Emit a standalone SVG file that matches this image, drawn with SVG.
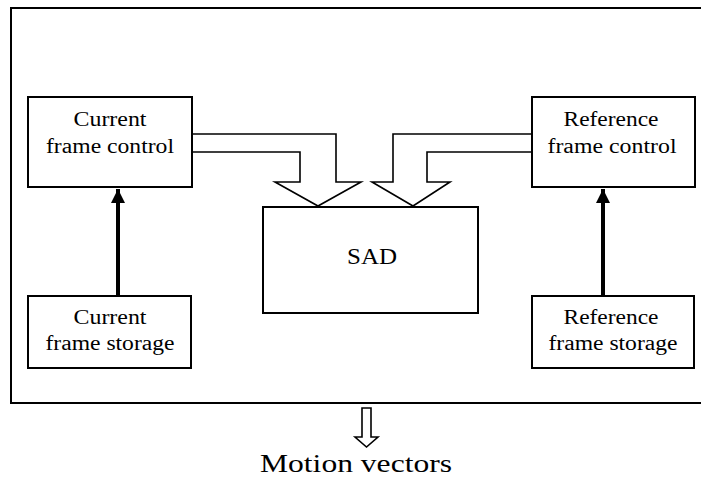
<svg xmlns="http://www.w3.org/2000/svg" width="701" height="477" viewBox="0 0 701 477">
  <style>
    .box { fill: #fff; stroke: #000; stroke-width: 2; }
    .lbl { font-family: "Liberation Serif", "Times New Roman", serif; font-size: 20px; fill: #000; text-anchor: middle; }
    .hollow { fill: #fff; stroke: #000; stroke-width: 1.6; stroke-linejoin: miter; }
    .solid { stroke: #000; stroke-width: 4; fill: none; }
  </style>
  <defs>
    <marker id="head" viewBox="0 0 10 10" refX="10" refY="5" markerWidth="3.6" markerHeight="3.6" orient="auto" markerUnits="strokeWidth">
      <path d="M0,0 L10,5 L0,10 Z" fill="#000"/>
    </marker>
  </defs>

  <rect width="701" height="477" fill="#fff"/>

  <!-- enclosing frame, open on the right -->
  <path d="M703,8 H11 V403 H703" fill="none" stroke="#000" stroke-width="2"/>

  <g id="connectors">
    <!-- wide hollow arrows into SAD -->
    <path class="hollow" d="M192,134 H336 V182 H361 L318,206 L275,182 H300 V152 H192"/>
    <path class="hollow" d="M532,134 H393 V182 H372 L413,206 L450,182 H427 V152 H532"/>
    <!-- storage to control -->
    <line class="solid" x1="118" y1="296" x2="118" y2="189" marker-end="url(#head)"/>
    <line class="solid" x1="603" y1="296" x2="603" y2="189" marker-end="url(#head)"/>
    <!-- output arrow -->
    <path class="hollow" d="M362,408 H371 V437 H378 L366.5,447 L355,437 H362 Z"/>
  </g>

  <g id="current-control">
    <rect class="box" x="28" y="97" width="164" height="90"/>
    <text class="lbl" x="110" y="126" textLength="73" lengthAdjust="spacingAndGlyphs">Current</text>
    <text class="lbl" x="110" y="153" textLength="128" lengthAdjust="spacingAndGlyphs">frame control</text>
  </g>

  <g id="reference-control">
    <rect class="box" x="532" y="97" width="163" height="90"/>
    <text class="lbl" x="611" y="126" textLength="95" lengthAdjust="spacingAndGlyphs">Reference</text>
    <text class="lbl" x="612" y="153" textLength="129" lengthAdjust="spacingAndGlyphs">frame control</text>
  </g>

  <g id="sad">
    <rect class="box" x="263" y="207" width="215" height="106"/>
    <text class="lbl" x="372" y="264" style="font-size:24px" textLength="50" lengthAdjust="spacingAndGlyphs">SAD</text>
  </g>

  <g id="current-storage">
    <rect class="box" x="28" y="296" width="163" height="72"/>
    <text class="lbl" x="110" y="324" textLength="73" lengthAdjust="spacingAndGlyphs">Current</text>
    <text class="lbl" x="110" y="350" textLength="129" lengthAdjust="spacingAndGlyphs">frame storage</text>
  </g>

  <g id="reference-storage">
    <rect class="box" x="532" y="296" width="162" height="72"/>
    <text class="lbl" x="611" y="324" textLength="95" lengthAdjust="spacingAndGlyphs">Reference</text>
    <text class="lbl" x="613" y="350" textLength="129" lengthAdjust="spacingAndGlyphs">frame storage</text>
  </g>

  <g id="motion-vectors">
    <text class="lbl" x="356" y="472" style="font-size:25px" textLength="192" lengthAdjust="spacingAndGlyphs">Motion vectors</text>
  </g>
</svg>
